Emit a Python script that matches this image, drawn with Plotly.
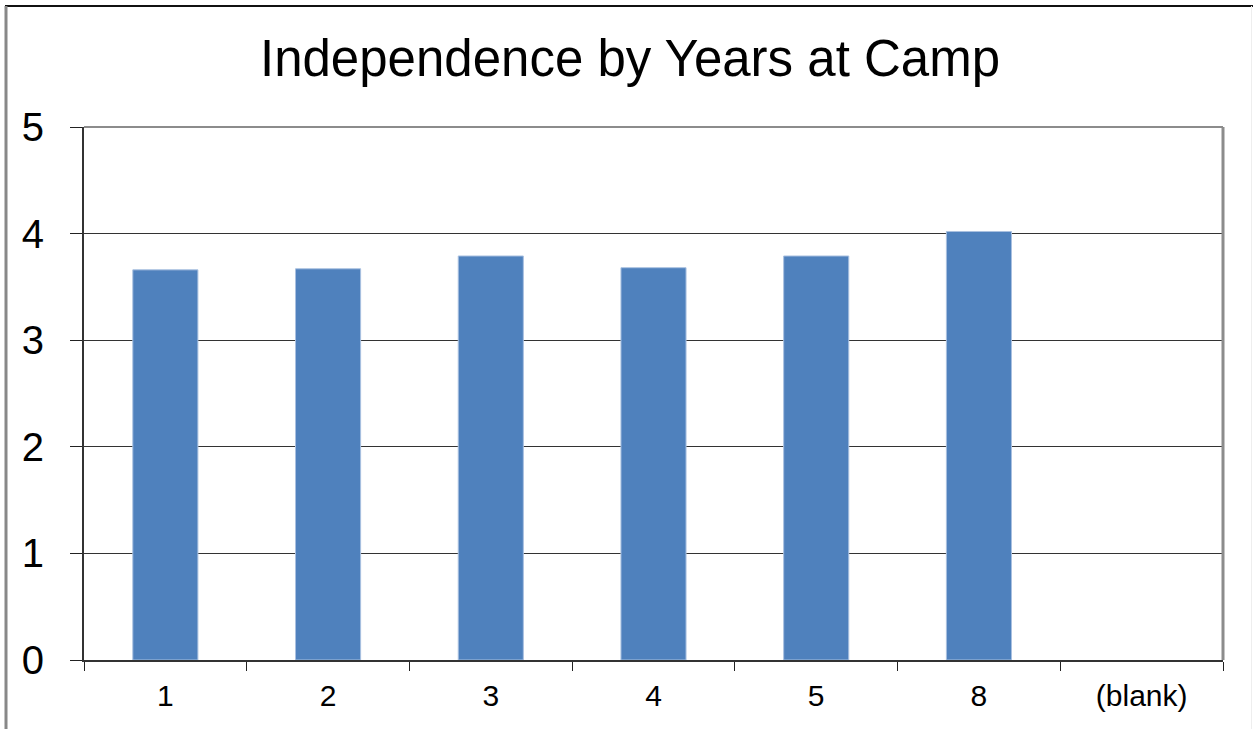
import plotly.graph_objects as go

categories = ["1", "2", "3", "4", "5", "8", "(blank)"]
values = [3.66, 3.67, 3.79, 3.68, 3.79, 4.02, None]
y_ticks = [0, 1, 2, 3, 4, 5]

W, H = 1253, 729
L, R, T, B = 84, 30, 127, 69
pw, ph = W - L - R, H - T - B

def px(x):
    return (x - L) / pw

def py(y):
    return (H - B - y) / ph

fig = go.Figure()
fig.add_trace(go.Bar(
    x=categories, y=values,
    marker=dict(color="#4F81BD", line=dict(color="#a9c0e0", width=1)),
))

fig.update_layout(
    width=W, height=H,
    margin=dict(l=L, r=R, t=T, b=B),
    paper_bgcolor="white", plot_bgcolor="white",
    bargap=0.6,
    showlegend=False,
    title=dict(text="Independence by Years at Camp", x=630 / W, xref="container",
               xanchor="center", y=1 - 58 / H, yanchor="middle",
               font=dict(family="Liberation Sans, Arial", size=51, color="black")),
    font=dict(family="Liberation Sans, Arial", color="black"),
    xaxis=dict(
        type="category", tickson="boundaries", ticks="outside", ticklen=9,
        tickcolor="#222", tickwidth=1,
        showline=True, linecolor="#333", linewidth=2,
        showgrid=False, tickfont=dict(size=30), ticklabelstandoff=8,
    ),
    yaxis=dict(
        range=[0, 5], tickvals=y_ticks, ticks="outside", ticklen=12,
        tickcolor="#222", tickwidth=1,
        showline=True, linecolor="#333", linewidth=2,
        showgrid=True, gridcolor="#333", gridwidth=1,
        zeroline=False, tickfont=dict(size=40), ticklabelstandoff=18,
    ),
    shapes=[
        # plot-area top and right borders (gray)
        dict(type="line", xref="paper", yref="paper", x0=0, x1=1, y0=1, y1=1,
             line=dict(color="#8c8c8c", width=2)),
        dict(type="line", xref="paper", yref="paper", x0=1, x1=1, y0=0, y1=1,
             line=dict(color="#8c8c8c", width=3)),
        # outer frame
        dict(type="line", xref="paper", yref="paper", x0=px(5), x1=px(1253),
             y0=py(6), y1=py(6), line=dict(color="#111", width=2)),
        dict(type="line", xref="paper", yref="paper", x0=px(6), x1=px(6),
             y0=py(6), y1=py(729), line=dict(color="#888", width=3)),
        dict(type="line", xref="paper", yref="paper", x0=px(1251.5), x1=px(1251.5),
             y0=py(6), y1=py(729), line=dict(color="#eeeeee", width=1)),
    ],
)

fig.write_html(
    "out.html",
    config={"displayModeBar": False},
    post_script="document.body.style.margin='0';document.body.style.overflow='hidden';",
)
